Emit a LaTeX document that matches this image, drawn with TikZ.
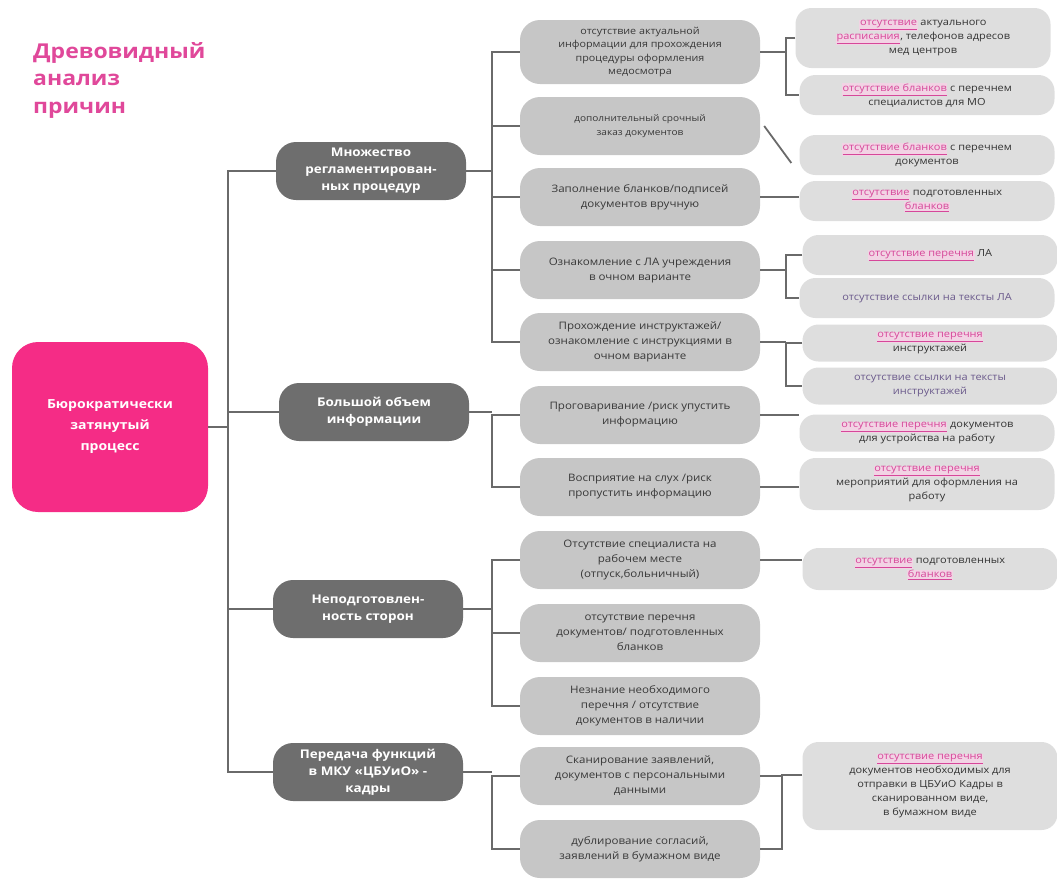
\documentclass[tikz,border=0pt]{standalone}
\usepackage{fontspec}
\setmainfont[FakeStretch=1.12]{Open Sans}
\usetikzlibrary{positioning}
\definecolor{rootpink}{HTML}{F52C86}
\definecolor{titlepink}{HTML}{E0489A}
\definecolor{dgray}{HTML}{6E6E6E}
\definecolor{mgray}{HTML}{C6C6C6}
\definecolor{lgray}{HTML}{DEDEDE}
\definecolor{linegray}{HTML}{6A6A6A}
\definecolor{pinkt}{HTML}{D6479A}
\definecolor{hlpink}{HTML}{F2D3E4}
\definecolor{purp}{HTML}{6B5A8C}
\newcommand\pk[1]{{\setlength\fboxsep{0.6pt}\colorbox{hlpink}{\textcolor{pinkt}{\underline{#1}}}}}
\tikzset{
  conn/.style={draw=linegray, line width=1.8pt},
  rootbox/.style={fill=rootpink, rounded corners=26pt, minimum width=196pt, minimum height=170pt,
    text=white, align=center, font=\bfseries\fontsize{12.5}{21}\selectfont},
  lvlone/.style={fill=dgray, rounded corners=20pt, minimum width=190pt, minimum height=58pt,
    text=white, align=center, inner sep=2pt, font=\bfseries\fontsize{12}{17}\selectfont},
  lvltwo/.style={fill=mgray, rounded corners=20pt, minimum width=240pt, minimum height=58pt,
    text=black!78, align=center, inner sep=2pt, font=\fontsize{10.3}{15}\selectfont},
  lvlthree/.style={fill=lgray, rounded corners=16pt, minimum width=255pt, minimum height=40pt,
    text=black!80, align=center, inner sep=2pt, font=\fontsize{9.8}{14}\selectfont},
}
\begin{document}
\begin{tikzpicture}[x=1pt,y=-1pt]
\useasboundingbox (0,0) rectangle (1057,887);
% title
\node[anchor=north west, align=left, text=titlepink, font=\bfseries\fontsize{20.5}{27.5}\selectfont, inner sep=0pt]
  (title) at (33,42) {Древовидный\\анализ\\причин};
% root
\node[rootbox] (root) at (110,427) {Бюрократически\\затянутый\\процесс};
% level one
\node[lvlone] (n1) at (371,171) {Множество\\регламентирован-\\ных процедур};
\node[lvlone] (n2) at (374,412) {Большой объем\\информации};
\node[lvlone] (n3) at (368,609) {Неподготовлен-\\ность сторон};
\node[lvlone] (n4) at (368,772) {Передача функций\\в МКУ «ЦБУиО» -\\кадры};
% level two
\node[lvltwo, minimum height=64pt, font=\fontsize{9.6}{13.6}\selectfont] (a) at (640,52) {отсутствие актуальной\\информации для прохождения\\процедуры оформления\\медосмотра};
\node[lvltwo, font=\fontsize{9}{14}\selectfont] (b) at (640,126) {дополнительный срочный\\заказ документов};
\node[lvltwo] (c) at (640,197) {Заполнение бланков/подписей\\документов вручную};
\node[lvltwo] (d) at (640,270) {Ознакомление с ЛА учреждения\\в очном варианте};
\node[lvltwo] (e) at (640,342) {Прохождение инструктажей/\\ознакомление с инструкциями в\\очном варианте};
\node[lvltwo] (f) at (640,415) {Проговаривание /риск упустить\\информацию};
\node[lvltwo] (g) at (640,487) {Восприятие на слух /риск\\пропустить информацию};
\node[lvltwo] (h) at (640,560) {Отсутствие специалиста на\\рабочем месте\\(отпуск,больничный)};
\node[lvltwo] (i) at (640,633) {отсутствие перечня\\документов/ подготовленных\\бланков};
\node[lvltwo] (j) at (640,706) {Незнание необходимого\\перечня / отсутствие\\документов в наличии};
\node[lvltwo] (k) at (640,776) {Сканирование заявлений,\\документов с персональными\\данными};
\node[lvltwo] (l) at (640,849) {дублирование согласий,\\заявлений в бумажном виде};
% level three
\node[lvlthree, minimum height=60pt] (A) at (923,38) {\pk{отсутствие} актуального\\\pk{расписания}, телефонов адресов\\мед центров};
\node[lvlthree] (B) at (927,95) {\pk{отсутствие бланков} с перечнем\\специалистов для МО};
\node[lvlthree] (C) at (927,155) {\pk{отсутствие бланков} с перечнем\\документов};
\node[lvlthree] (D) at (927,201) {\pk{отсутствие} подготовленных\\\pk{бланков}};
\node[lvlthree] (E) at (930,255) {\pk{отсутствие перечня} ЛА};
\node[lvlthree, text=purp] (F) at (927,298) {отсутствие ссылки на тексты ЛА};
\node[lvlthree, minimum height=37pt] (G) at (930,343) {\pk{отсутствие перечня}\\инструктажей};
\node[lvlthree, minimum height=37pt, text=purp] (H) at (930,386) {отсутствие ссылки на тексты\\инструктажей};
\node[lvlthree, minimum height=37pt] (I) at (927,433) {\pk{отсутствие перечня} документов\\для устройства на работу};
\node[lvlthree, minimum height=52pt] (J) at (927,484) {\pk{отсутствие перечня}\\мероприятий для оформления на\\работу};
\node[lvlthree, minimum height=42pt] (K) at (930,569) {\pk{отсутствие} подготовленных\\\pk{бланков}};
\node[lvlthree, minimum height=88pt] (L) at (930,786) {\pk{отсутствие перечня}\\документов необходимых для\\отправки в ЦБУиО Кадры в\\сканированном виде,\\в бумажном виде};
% junction coordinates
\coordinate (t) at (228,0);
\coordinate (ja) at (492,0);
\coordinate (jb) at (786,0);
% trunk
\draw[conn] (n1.west) -- (n1.west -| t) -- (n4.west -| t) -- (n4.west);
\draw[conn] (root.east) -- (root.east -| t);
\draw[conn] (n2.west) -- (n2.west -| t);
\draw[conn] (n3.west) -- (n3.west -| t);
% group 1
\draw[conn] (n1.east) -- (n1.east -| ja);
\draw[conn] (a.west) -- (a.west -| ja) -- (e.west -| ja) -- (e.west);
\draw[conn] (b.west) -- (b.west -| ja);
\draw[conn] (c.west) -- (c.west -| ja);
\draw[conn] (d.west) -- (d.west -| ja);
% group 2
\draw[conn] (n2.east) -- (n2.east -| ja);
\draw[conn] (f.west) -- (f.west -| ja) -- (g.west -| ja) -- (g.west);
% group 3
\draw[conn] (n3.east) -- (n3.east -| ja);
\draw[conn] (h.west) -- (h.west -| ja) -- (j.west -| ja) -- (j.west);
\draw[conn] (i.west) -- (i.west -| ja);
% group 4
\draw[conn] (n4.east) -- (n4.east -| ja);
\draw[conn] (k.west) -- (k.west -| ja) -- (l.west -| ja) -- (l.west);
% level three connectors
\draw[conn] (A.west) -- (A.west -| jb) -- (B.west -| jb) -- (B.west);
\draw[conn] (a.east) -- (a.east -| jb);
\draw[conn] ([xshift=4pt]b.east) -- ([xshift=-8pt,yshift=-8pt]C.west);
\draw[conn] (c.east) -- (c.east -| D.west);
\draw[conn] (E.west) -- (E.west -| jb) -- (F.west -| jb) -- (F.west);
\draw[conn] (d.east) -- (d.east -| jb);
\draw[conn] (G.west) -- (G.west -| jb) -- (H.west -| jb) -- (H.west);
\draw[conn] (e.east) -- (e.east -| jb);
\draw[conn] (f.east) -- (f.east -| I.west);
\draw[conn] (g.east) -- (g.east -| J.west);
\draw[conn] (h.east) -- (h.east -| K.west);
\coordinate (lj) at (782,775);
\draw[conn] (L.west |- lj) -- (lj) -- (lj |- l.east) -- (l.east);
\draw[conn] (k.east) -- (k.east -| lj);
\end{tikzpicture}
\end{document}
